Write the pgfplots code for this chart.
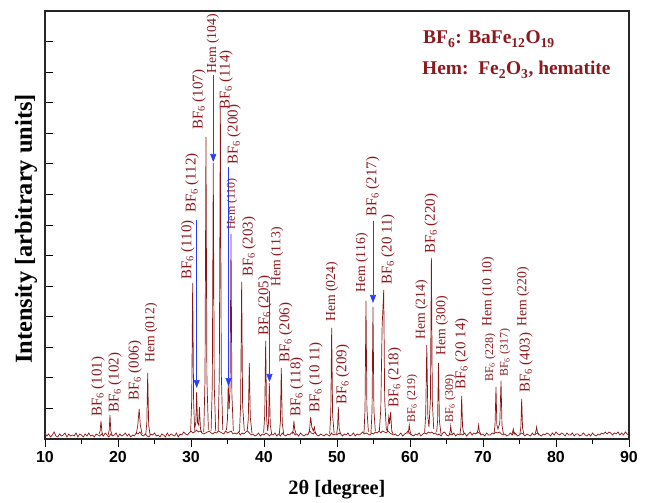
\documentclass[border=0pt]{standalone}
\usepackage{fontspec}
\setmainfont{Liberation Serif}
\setsansfont{Liberation Sans}
\usepackage{pgfplots}
\pgfplotsset{compat=1.18}
\usetikzlibrary{arrows.meta}
\definecolor{dred}{RGB}{140,22,22}
\definecolor{dtext}{RGB}{140,25,30}
\definecolor{arr}{RGB}{40,60,255}
\newcommand{\lbl}[4]{\node[rotate=90,anchor=west,inner sep=0pt,font=#4,text=dtext] at (axis cs:#1,#2) {#3};}
\newcommand{\fa}{\fontsize{15}{15}\selectfont}
\newcommand{\fb}{\fontsize{13.8}{13.8}\selectfont}
\newcommand{\fc}{\fontsize{12}{12}\selectfont}
\begin{document}
\begin{tikzpicture}
\begin{axis}[
  at={(0,0)}, anchor=south west,
  scale only axis, width=584bp, height=428bp,
  xmin=10, xmax=90, ymin=0, ymax=428,
  clip=false,
  axis line style={line width=1.1pt, black!85},
  xtick={10,20,...,90}, minor xtick={15,25,...,85},
  xtick pos=bottom, xtick align=outside,
  ytick={30.57,61.14,91.71,122.29,152.86,183.43,214,244.57,275.14,305.71,336.29,366.86,397.43},
  yticklabels={}, ytick pos=left, ytick align=inside,
  major tick length=8bp, minor tick length=4.5bp,
  every tick/.style={black, line width=0.9pt},
  /pgf/number format/assume math mode=true,
  tick label style={font=\sffamily\bfseries\fontsize{16}{16}\selectfont},
  xticklabel style={yshift=-1bp},
  unbounded coords=jump,
  xlabel={2θ [degree]},
  ylabel={Intensity [arbitrary units]},
  xlabel style={at={(axis description cs:0.5,-0.119)}, anchor=center, font=\bfseries\fontsize{20.5}{20.5}\selectfont},
  ylabel style={at={(axis description cs:-0.0325,0.4907)}, anchor=center, font=\bfseries\fontsize{24.5}{24.5}\selectfont},
]
% baseline noise
\addplot[dred, line width=0.7pt] coordinates {
(10,6)(10.25,3)(10.5,5)(10.75,2)(11,4)(11.25,7)(11.5,3)(11.75,2)
(12,5)(12.25,3)(12.5,4)(12.75,6)(13,2)(13.25,5)(13.5,3)(13.75,4)
(14,3)(14.25,6)(14.5,2)(14.75,5)(15,4)(15.25,2)(15.5,5)(15.75,3)
(16,6)(16.25,3)(16.5,4)(16.75,2)(17,5)(17.25,4)(17.5,3)(17.75,5)
(18,3)(18.25,6)(18.5,4)(18.75,2)(19,5)(19.25,3)(19.5,4)(19.75,6)
(20,2)(20.25,5)(20.5,3)(20.75,4)(21,6)(21.25,3)(21.5,5)(21.75,2)
(22,4)(22.25,3)(22.5,6)(22.75,5)(23,7)(23.25,4)(23.5,3)(23.75,5)
(24,3)(24.25,2)(24.5,5)(24.75,4)(25,6)(25.25,3)(25.5,4)(25.75,2)
(26,5)(26.25,4)(26.5,2)(26.75,6)(27,3)(27.25,5)(27.5,4)(27.75,3)
(28,6)(28.25,2)(28.5,5)(28.75,4)(29,7)(29.25,5)(29.5,4)(29.75,6)
(30,8)(30.25,6)(30.5,7)(30.75,9)(31,7)(31.25,8)(31.5,6)(31.75,5)
(32,6)(32.25,7)(32.5,8)(32.75,6)(33,5)(33.25,7)(33.5,6)(33.75,8)
(34,7)(34.25,6)(34.5,5)(34.75,8)(35,6)(35.25,7)(35.5,8)(35.75,5)
(36,6)(36.25,5)(36.5,7)(36.75,4)(37,6)(37.25,5)(37.5,7)(37.75,8)
(38,6)(38.25,4)(38.5,5)(38.75,3)(39,4)(39.25,6)(39.5,3)(39.75,5)
(40,4)(40.25,6)(40.5,5)(40.75,3)(41,5)(41.25,4)(41.5,6)(41.75,3)
(42,5)(42.25,3)(42.5,6)(42.75,4)(43,3)(43.25,5)(43.5,4)(43.75,6)
(44,7)(44.25,4)(44.5,5)(44.75,3)(45,6)(45.25,4)(45.5,3)(45.75,5)
(46,4)(46.25,8)(46.5,6)(46.75,5)(47,7)(47.25,4)(47.5,3)(47.75,5)
(48,4)(48.25,3)(48.5,5)(48.75,4)(49,3)(49.25,6)(49.5,4)(49.75,5)
(50,4)(50.25,6)(50.5,5)(50.75,3)(51,5)(51.25,4)(51.5,6)(51.75,3)
(52,4)(52.25,6)(52.5,3)(52.75,5)(53,4)(53.25,5)(53.5,7)(53.75,5)
(54,6)(54.25,5)(54.5,4)(54.75,6)(55,5)(55.25,7)(55.5,6)(55.75,8)
(56,6)(56.25,8)(56.5,7)(56.75,6)(57,8)(57.25,6)(57.5,5)(57.75,4)
(58,5)(58.25,3)(58.5,4)(58.75,6)(59,3)(59.25,5)(59.5,6)(59.75,8)
(60,5)(60.25,4)(60.5,3)(60.75,5)(61,4)(61.25,6)(61.5,3)(61.75,5)
(62,6)(62.25,5)(62.5,7)(62.75,6)(63,7)(63.25,5)(63.5,6)(63.75,4)
(64,5)(64.25,3)(64.5,6)(64.75,7)(65,4)(65.25,3)(65.5,5)(65.75,4)
(66,6)(66.25,3)(66.5,5)(66.75,4)(67,5)(67.25,4)(67.5,6)(67.75,3)
(68,5)(68.25,7)(68.5,4)(68.75,6)(69,5)(69.25,7)(69.5,6)(69.75,4)
(70,5)(70.25,3)(70.5,6)(70.75,4)(71,4)(71.25,6)(71.5,5)(71.75,7)
(72,6)(72.25,7)(72.5,5)(72.75,4)(73,5)(73.25,3)(73.5,4)(73.75,6)
(74,4)(74.25,7)(74.5,5)(74.75,3)(75,4)(75.25,6)(75.5,5)(75.75,3)
(76,5)(76.25,4)(76.5,3)(76.75,6)(77,4)(77.25,5)(77.5,6)(77.75,4)
(78,3)(78.25,5)(78.5,4)(78.75,6)(79,5)(79.25,3)(79.5,6)(79.75,4)
(80,7)(80.25,5)(80.5,4)(80.75,6)(81,5)(81.25,3)(81.5,6)(81.75,4)
(82,4)(82.25,6)(82.5,3)(82.75,5)(83,5)(83.25,3)(83.5,4)(83.75,6)
(84,4)(84.25,3)(84.5,5)(84.75,3)(85,6)(85.25,4)(85.5,3)(85.75,5)
(86,4)(86.25,6)(86.5,5)(86.75,7)(87,5)(87.25,7)(87.5,6)(87.75,4)
(88,6)(88.25,5)(88.5,7)(88.75,4)(89,6)(89.25,4)(89.5,7)(89.75,5)
(90,3)
};
% peaks
\addplot[dred, line width=0.7pt] coordinates {
(17.4,5)(17.55,8)(17.67,18)(17.8,7)(17.95,4)(18,nan)
(18.65,4)(18.8,9)(18.9,24)(19.02,8)(19.2,4)(19.3,nan)
(22.5,5)(22.7,13)(22.9,30)(23.05,14)(23.3,5)(23.4,nan)
(23.8,5)(23.95,16)(24.07,66)(24.2,14)(24.4,4)(24.5,nan)
(29.95,7)(30.1,40)(30.23,156)(30.36,36)(30.5,10)(30.67,17)(30.77,47)(30.9,16)(31.05,14)(31.15,32)(31.3,10)(31.5,6)(31.6,nan)
(31.75,7)(31.92,60)(32.05,302)(32.18,60)(32.38,9)(32.5,nan)
(32.75,8)(32.92,55)(33.05,276)(33.18,55)(33.38,8)(33.5,nan)
(33.72,8)(33.88,65)(34.02,331)(34.15,66)(34.35,9)(34.5,nan)
(34.85,9)(35.0,20)(35.1,56)(35.22,30)(35.35,50)(35.48,205)(35.6,45)(35.8,8)(35.9,nan)
(36.65,7)(36.8,35)(36.94,157)(37.07,34)(37.3,8)(37.4,nan)
(37.7,8)(37.85,20)(37.99,76)(38.12,22)(38.35,6)(38.4,nan)
(39.95,6)(40.1,24)(40.23,98)(40.36,20)(40.5,8)(40.62,16)(40.73,56)(40.86,14)(41.05,5)(41.1,nan)
(42.1,5)(42.25,18)(42.37,71)(42.5,16)(42.7,5)(42.8,nan)
(43.85,5)(44.0,9)(44.1,18)(44.2,10)(44.4,5)(44.5,nan)
(46.1,5)(46.25,10)(46.4,22)(46.55,12)(46.75,8)(46.9,12)(47.05,5)(47.1,nan)
(49.0,5)(49.15,26)(49.27,111)(49.4,24)(49.6,6)(49.7,nan)
(49.95,5)(50.08,12)(50.18,32)(50.3,10)(50.5,5)(50.6,nan)
(53.7,6)(53.84,30)(53.97,138)(54.1,30)(54.3,7)(54.4,nan)
(54.65,6)(54.8,28)(54.93,132)(55.06,28)(55.25,8)(55.3,nan)
(55.8,8)(56.0,30)(56.18,112)(56.4,149)(56.53,40)(56.75,10)(56.9,8)(57.1,22)(57.2,15)(57.35,27)(57.5,8)(57.7,5)(57.8,nan)
(59.7,5)(59.82,9)(59.9,14)(60.0,8)(60.2,4)(60.3,nan)
(62.0,6)(62.15,24)(62.3,94)(62.45,22)(62.6,12)(62.8,40)(62.93,181)(63.06,38)(63.25,10)(63.3,nan)
(63.65,7)(63.78,18)(63.9,76)(64.03,18)(64.25,5)(64.3,nan)
(65.38,4)(65.5,8)(65.58,13)(65.68,7)(65.85,4)(65.9,nan)
(66.85,5)(66.97,12)(67.08,43)(67.2,12)(67.4,5)(67.5,nan)
(69.15,5)(69.3,9)(69.4,14)(69.5,8)(69.7,5)(69.8,nan)
(71.5,5)(71.65,14)(71.78,52)(71.9,14)(72.05,10)(72.3,16)(72.47,58)(72.6,14)(72.8,5)(72.9,nan)
(73.95,4)(74.05,7)(74.15,10)(74.25,6)(74.45,4)(74.5,nan)
(75.05,5)(75.18,11)(75.3,40)(75.42,11)(75.6,5)(75.7,nan)
(77.1,4)(77.25,8)(77.35,12)(77.45,7)(77.65,4)
};
% arrows
\draw[arr, line width=0.6pt, -{Triangle[width=6bp,length=8bp]}] (axis cs:30.78,219) -- (axis cs:30.78,51);
\draw[arr, line width=0.6pt, -{Triangle[width=6bp,length=8bp]}] (axis cs:33.05,364) -- (axis cs:33.05,277);
\draw[arr, line width=0.6pt, -{Triangle[width=6bp,length=8bp]}] (axis cs:35.14,272) -- (axis cs:35.14,53);
\draw[arr, line width=0.6pt, -{Triangle[width=6bp,length=8bp]}] (axis cs:40.75,148) -- (axis cs:40.75,57);
\draw[arr, line width=0.6pt, -{Triangle[width=6bp,length=8bp]}] (axis cs:54.93,218) -- (axis cs:54.93,136);
% labels
\lbl{17.26}{22}{BF\textsubscript{6} (101)}{\fa}
\lbl{19.59}{26}{BF\textsubscript{6} (102)}{\fa}
\lbl{22.33}{38}{BF\textsubscript{6} (006)}{\fa}
\lbl{24.52}{76}{Hem (012)}{\fb}
\lbl{29.55}{159}{BF\textsubscript{6} (110)}{\fa}
\lbl{30.14}{226}{BF\textsubscript{6} (112)}{\fa}
\lbl{31.1}{309}{BF\textsubscript{6} (107)}{\fa}
\lbl{33.0}{365}{Hem (104)}{\fb}
\lbl{34.8}{329}{BF\textsubscript{6} (114)}{\fa}
\lbl{35.9}{274}{BF\textsubscript{6} (200)}{\fa}
\lbl{35.6}{209}{Hem (110)}{\fc}
\lbl{37.95}{162}{BF\textsubscript{6} (203)}{\fa}
\lbl{40.1}{103}{BF\textsubscript{6} (205)}{\fa}
\lbl{41.8}{152}{Hem (113)}{\fb}
\lbl{43.0}{76}{BF\textsubscript{6} (206)}{\fa}
\lbl{44.5}{22}{BF\textsubscript{6} (118)}{\fa}
\lbl{47.1}{26}{BF\textsubscript{6} (10 11)}{\fa}
\lbl{49.3}{117}{Hem (024)}{\fb}
\lbl{50.8}{34}{BF\textsubscript{6} (209)}{\fa}
\lbl{53.4}{146}{Hem (116)}{\fb}
\lbl{54.9}{222}{BF\textsubscript{6} (217)}{\fa}
\lbl{57.0}{154}{BF\textsubscript{6} (20 11)}{\fa}
\lbl{57.9}{31}{BF\textsubscript{6} (218)}{\fa}
\lbl{60.3}{16}{BF\textsubscript{6} (219)}{\fc}
\lbl{61.6}{99}{Hem (214)}{\fb}
\lbl{62.9}{185}{BF\textsubscript{6} (220)}{\fa}
\lbl{64.4}{83}{Hem (300)}{\fb}
\lbl{65.5}{16}{BF\textsubscript{6} (309)}{\fc}
\lbl{67.1}{49}{BF\textsubscript{6} (20 14)}{\fa}
\lbl{71.0}{57}{BF\textsubscript{6} (228)}{\fc}
\lbl{70.7}{112}{Hem (10 10)}{\fb}
\lbl{73.0}{62}{BF\textsubscript{6} (317)}{\fc}
\lbl{75.9}{46}{BF\textsubscript{6} (403)}{\fa}
\lbl{75.5}{112}{Hem (220)}{\fb}
% legend text
\node[anchor=base west, inner sep=0pt, text=dtext, font=\bfseries\fontsize{19.5}{19.5}\selectfont] at (axis cs:61.78,395) {BF\textsubscript{6}: BaFe\textsubscript{12}O\textsubscript{19}};
\node[anchor=base west, inner sep=0pt, text=dtext, font=\bfseries\fontsize{19.5}{19.5}\selectfont] at (axis cs:61.65,364) {Hem:\ \ Fe\textsubscript{2}O\textsubscript{3}, hematite};
\end{axis}
\pgfresetboundingbox
\path (-45bp,-64bp) rectangle (602bp,439bp);
\end{tikzpicture}
\end{document}
